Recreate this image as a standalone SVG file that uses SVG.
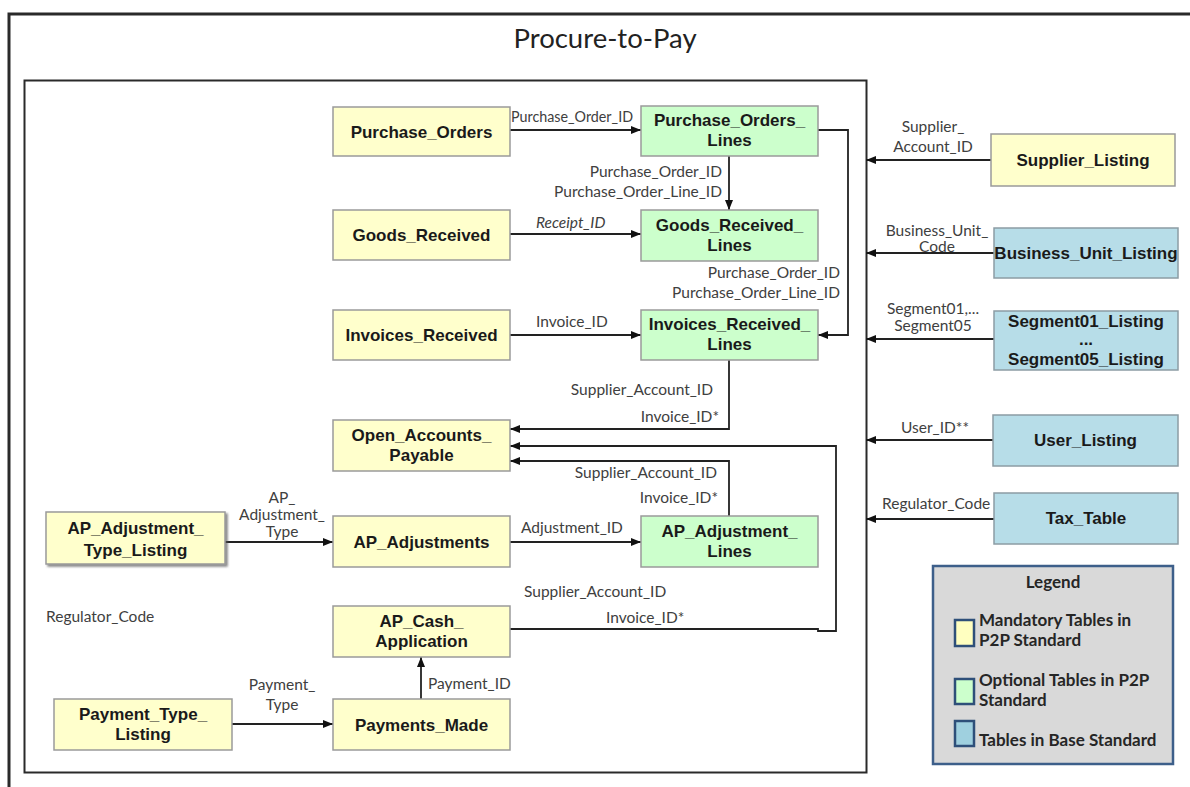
<svg xmlns="http://www.w3.org/2000/svg" width="1190" height="787" viewBox="0 0 1190 787">
<style>
.frame{fill:none;stroke:#2a2a2a}
.box{stroke:#9a9a9a;stroke-width:1.5}
.y{fill:#ffffcc}
.g{fill:#ccffcc}
.b{fill:#b7dde8;stroke:#8c9ca4}
.nt{font-family:"Liberation Sans",Arial,sans-serif;font-weight:bold;font-size:17px;fill:#1a1a1a;text-anchor:middle}
.lb{font-family:Lato,"Liberation Sans",sans-serif;font-size:15.5px;fill:#404040}
.c{text-anchor:middle}
.e{text-anchor:end}
.conn path{fill:none;stroke:#222;stroke-width:1.8}
.lg{font-family:Lato,"Liberation Sans",sans-serif;font-weight:bold;font-size:17px;fill:#262626}
.sw{stroke:#2e4f79;stroke-width:2.5}
</style>
<defs>
<marker id="ah" viewBox="0 0 10 10" refX="10" refY="5" markerWidth="10" markerHeight="10" markerUnits="userSpaceOnUse" orient="auto">
<path d="M0,1 L10,5 L0,9 Z" fill="#111"/>
</marker>
<filter id="sh" x="-5%" y="-5%" width="115%" height="130%">
<feDropShadow dx="2" dy="2" stdDeviation="0.8" flood-color="#555" flood-opacity="0.7"/>
</filter>
</defs>
<rect width="1190" height="787" fill="#ffffff"/>
<rect class="frame" x="9" y="14" width="1195" height="790" stroke-width="3"/>
<rect class="frame" x="24.5" y="80.5" width="842" height="692" stroke-width="2"/>
<text x="605" y="48" font-family="Lato,'Liberation Sans',sans-serif" font-size="27.5" fill="#222" text-anchor="middle">Procure-to-Pay</text>

<g class="conn">
<path d="M510,130 H641" marker-end="url(#ah)"/>
<path d="M729,156 V210" marker-end="url(#ah)"/>
<path d="M510,234 H641" marker-end="url(#ah)"/>
<path d="M818,130 H848 V335 H818" marker-end="url(#ah)"/>
<path d="M510,335 H641" marker-end="url(#ah)"/>
<path d="M729,360 V429 H510" marker-end="url(#ah)"/>
<path d="M510,629 H818 V631 H836 V446 H510" marker-end="url(#ah)"/>
<path d="M729,516 V461 H510" marker-end="url(#ah)"/>
<path d="M225,542 H333" marker-end="url(#ah)"/>
<path d="M510,542 H641" marker-end="url(#ah)"/>
<path d="M232,724 H333" marker-end="url(#ah)"/>
<path d="M421,700 V657" marker-end="url(#ah)"/>
<path d="M991,160 H866" marker-end="url(#ah)"/>
<path d="M994,253 H866" marker-end="url(#ah)"/>
<path d="M994,339 H866" marker-end="url(#ah)"/>
<path d="M993,440 H866" marker-end="url(#ah)"/>
<path d="M994,519 H866" marker-end="url(#ah)"/>
</g>

<g id="labels">
<text class="lb" x="511" y="122" textLength="122" lengthAdjust="spacingAndGlyphs">Purchase_Order_ID</text>
<text class="lb e" x="722" y="177">Purchase_Order_ID</text>
<text class="lb e" x="722" y="197">Purchase_Order_Line_ID</text>
<text class="lb" x="536" y="228" font-style="italic">Receipt_ID</text>
<text class="lb e" x="840" y="278">Purchase_Order_ID</text>
<text class="lb e" x="840" y="298">Purchase_Order_Line_ID</text>
<text class="lb" x="536" y="327">Invoice_ID</text>
<text class="lb e" x="713" y="395">Supplier_Account_ID</text>
<text class="lb e" x="719" y="422">Invoice_ID*</text>
<text class="lb e" x="717" y="478">Supplier_Account_ID</text>
<text class="lb e" x="718" y="503">Invoice_ID*</text>
<text class="lb c" x="282" y="503">AP_</text>
<text class="lb c" x="282" y="520">Adjustment_</text>
<text class="lb c" x="282" y="537">Type</text>
<text class="lb" x="521" y="533">Adjustment_ID</text>
<text class="lb" x="524" y="597">Supplier_Account_ID</text>
<text class="lb" x="606" y="623">Invoice_ID*</text>
<text class="lb" x="46" y="622">Regulator_Code</text>
<text class="lb c" x="282" y="690">Payment_</text>
<text class="lb c" x="282" y="710">Type</text>
<text class="lb" x="428" y="689">Payment_ID</text>
<text class="lb c" x="933" y="132">Supplier_</text>
<text class="lb c" x="933" y="152">Account_ID</text>
<text class="lb c" x="937" y="236">Business_Unit_</text>
<text class="lb c" x="937" y="252">Code</text>
<text class="lb c" x="933" y="314">Segment01,...</text>
<text class="lb c" x="933" y="331">Segment05</text>
<text class="lb" x="901" y="433">User_ID**</text>
<text class="lb" x="882" y="509">Regulator_Code</text>
</g>

<g id="n_po"><rect class="box y" x="333" y="107" width="177" height="49"/><text class="nt" x="421.5" y="137.5">Purchase_Orders</text></g>
<g id="n_pol"><rect class="box g" x="641" y="106" width="177" height="50"/><text class="nt" x="729.5" y="126">Purchase_Orders_</text><text class="nt" x="729.5" y="146">Lines</text></g>
<g id="n_gr"><rect class="box y" x="333" y="210" width="177" height="50"/><text class="nt" x="421.5" y="241">Goods_Received</text></g>
<g id="n_grl"><rect class="box g" x="641" y="210" width="177" height="51"/><text class="nt" x="729.5" y="231">Goods_Received_</text><text class="nt" x="729.5" y="251">Lines</text></g>
<g id="n_ir"><rect class="box y" x="333" y="310" width="177" height="50"/><text class="nt" x="421.5" y="341">Invoices_Received</text></g>
<g id="n_irl"><rect class="box g" x="641" y="310" width="177" height="50"/><text class="nt" x="729.5" y="330">Invoices_Received_</text><text class="nt" x="729.5" y="350">Lines</text></g>
<g id="n_oap"><rect class="box y" x="333" y="420" width="177" height="51"/><text class="nt" x="421.5" y="441">Open_Accounts_</text><text class="nt" x="421.5" y="461">Payable</text></g>
<g id="n_atl"><rect class="box y" x="46" y="512" width="179" height="52" filter="url(#sh)"/><text class="nt" x="135.5" y="534" font-size="19">AP_Adjustment_</text><text class="nt" x="135.5" y="556" font-size="19">Type_Listing</text></g>
<g id="n_aa"><rect class="box y" x="333" y="516" width="177" height="51"/><text class="nt" x="421.5" y="547.5">AP_Adjustments</text></g>
<g id="n_al"><rect class="box g" x="641" y="516" width="177" height="51"/><text class="nt" x="729.5" y="537">AP_Adjustment_</text><text class="nt" x="729.5" y="557">Lines</text></g>
<g id="n_ac"><rect class="box y" x="333" y="606" width="177" height="51"/><text class="nt" x="421.5" y="627">AP_Cash_</text><text class="nt" x="421.5" y="647">Application</text></g>
<g id="n_ptl"><rect class="box y" x="54" y="699" width="178" height="51"/><text class="nt" x="143" y="720">Payment_Type_</text><text class="nt" x="143" y="740">Listing</text></g>
<g id="n_pm"><rect class="box y" x="333" y="699" width="177" height="51"/><text class="nt" x="421.5" y="730.5">Payments_Made</text></g>
<g id="n_sl"><rect class="box y" x="991" y="134" width="184" height="52"/><text class="nt" x="1083" y="166">Supplier_Listing</text></g>
<g id="n_bu"><rect class="box b" x="994" y="228" width="184" height="50"/><text class="nt" x="1086" y="259" font-size="16.5">Business_Unit_Listing</text></g>
<g id="n_seg"><rect class="box b" x="994" y="311" width="184" height="59"/><text class="nt" x="1086" y="327">Segment01_Listing</text><text class="nt" x="1086" y="345">...</text><text class="nt" x="1086" y="365">Segment05_Listing</text></g>
<g id="n_ul"><rect class="box b" x="993" y="415" width="185" height="51"/><text class="nt" x="1085.5" y="446">User_Listing</text></g>
<g id="n_tt"><rect class="box b" x="994" y="493" width="184" height="51"/><text class="nt" x="1086" y="524">Tax_Table</text></g>

<g id="legend">
<rect x="933" y="566" width="240" height="198" fill="#d9d9d9" stroke="#3d5f8a" stroke-width="2.5"/>
<text class="lg" x="1053" y="588" text-anchor="middle">Legend</text>
<rect class="sw" x="955" y="620" width="19" height="26" fill="#ffffc0"/>
<text class="lg" x="979" y="626">Mandatory Tables in</text>
<text class="lg" x="979" y="646">P2P Standard</text>
<rect class="sw" x="955" y="679" width="19" height="25" fill="#ccffcc"/>
<text class="lg" x="979" y="686">Optional Tables in P2P</text>
<text class="lg" x="979" y="706">Standard</text>
<rect class="sw" x="955" y="721" width="19" height="25" fill="#9fd0df"/>
<text class="lg" x="979" y="746">Tables in Base Standard</text>
</g>
</svg>
